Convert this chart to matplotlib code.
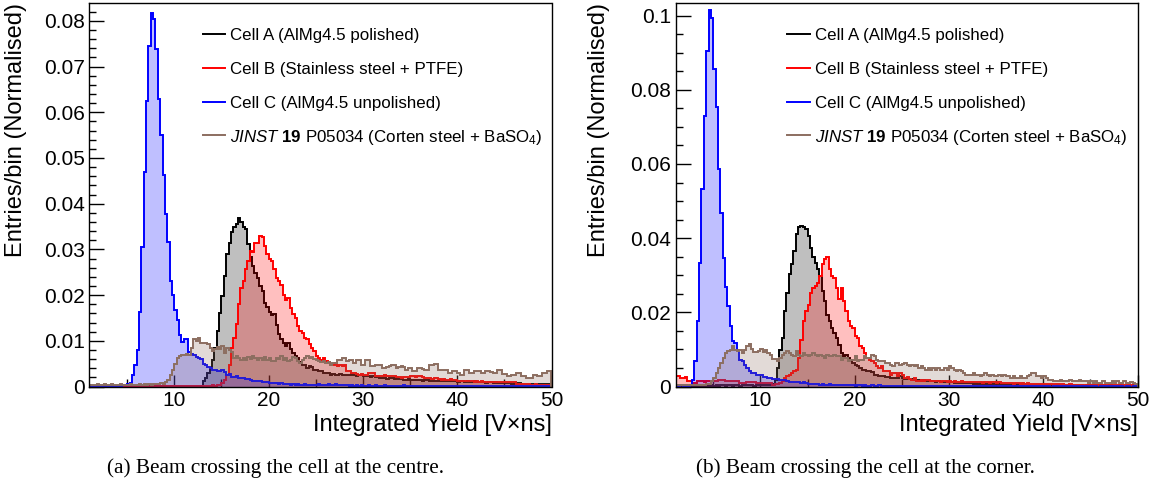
import numpy as np
import matplotlib.pyplot as plt
from matplotlib.ticker import MultipleLocator, FuncFormatter

plt.rcParams['font.family'] = ['Liberation Sans', 'DejaVu Sans']
plt.rcParams['mathtext.fontset'] = 'custom'
plt.rcParams['mathtext.rm'] = 'Liberation Sans'
plt.rcParams['mathtext.it'] = 'Liberation Sans:italic'
plt.rcParams['mathtext.bf'] = 'Liberation Sans:bold'

# binning shared by all histograms [V x ns]
x_min, x_max, bin_width = 1.0, 50.0, 0.25

# bin contents, in units of 1e-3 (entries/bin, normalised)
# (a) beam crossing the cell at the centre
centre_a = [0.0,
    0.1, 0.0, 0.1, 0.1, 0.0, 0.1, 0.1, 0.0, 0.1, 0.1,
    0.1, 0.1, 0.0, 0.1, 0.1, 0.1, 0.0, 0.1, 0.1, 0.1,
    0.1, 0.1, 0.1, 0.1, 0.0, 0.1, 0.1, 0.1, 0.1, 0.1,
    0.1, 0.1, 0.1, 0.1, 0.1, 0.1, 0.1, 0.1, 0.1, 0.2,
    0.1, 0.2, 0.1, 0.2, 0.2, 0.2, 0.2, 1.1, 1.8,
    2.9, 4.1, 5.8, 8.4, 12.1, 16.1, 19.8, 24.2, 29.0, 31.5,
    33.7, 34.9, 35.5, 36.8, 35.9, 34.8, 34.4, 31.2, 28.3, 26.3,
    24.9, 23.8, 22.0, 20.9, 18.3, 17.3, 16.4, 15.7, 15.9, 13.5,
    11.4, 10.3, 9.5, 8.8, 9.5, 8.1, 7.4, 6.6, 6.3, 5.3,
    4.7, 4.6, 4.0, 4.4, 4.2, 3.7, 3.6, 3.4, 3.3, 3.0,
    2.9, 2.9, 2.6, 2.8, 2.5, 2.6, 2.7, 2.6, 2.5, 2.6,
    2.6, 2.7, 2.6, 2.4, 2.6, 2.5, 2.3, 2.2, 2.3,
    2.1, 2.2, 2.0, 2.2, 1.9, 1.8, 1.9, 1.7, 1.8, 1.8,
    1.7, 1.8, 1.6, 1.7, 1.5, 1.5, 1.6, 1.4, 1.5, 1.5,
    1.4, 1.5, 1.3, 1.4, 1.5, 1.3, 1.2, 1.3, 1.3, 1.2,
    1.3, 1.1, 1.2, 1.2, 1.1, 1.3, 1.1, 1.0, 1.1, 1.1,
    1.0, 1.1, 0.9, 1.0, 1.1, 1.0, 0.9, 0.9, 1.0,
    0.8, 0.9, 0.9, 0.8, 0.9, 0.8, 0.7, 0.8, 0.8, 0.7,
    0.7, 0.6, 0.7, 0.6, 0.7, 0.6, 0.6, 0.5, 0.6, 0.6,
    0.5, 0.6, 0.5, 0.5, 0.6, 0.5, 0.5, 0.5]
centre_b = [0.1,
    0.1, 0.1, 0.1, 0.2, 0.1, 0.1, 0.1, 0.2, 0.1, 0.1,
    0.1, 0.2, 0.1, 0.1, 0.1, 0.1, 0.2, 0.1, 0.1, 0.1,
    0.1, 0.1, 0.2, 0.1, 0.1, 0.1, 0.1, 0.1, 0.2, 0.1,
    0.1, 0.1, 0.1, 0.2, 0.1, 0.1, 0.1, 0.1, 0.1, 0.2,
    0.1, 0.1, 0.2, 0.1, 0.2, 0.2, 0.2, 0.2, 0.2,
    0.2, 0.2, 0.3, 0.2, 0.3, 0.3, 0.7, 1.5, 2.6, 4.8,
    8.4, 10.6, 13.6, 18.0, 21.6, 23.1, 25.6, 27.5, 29.7, 29.5,
    31.5, 31.3, 33.0, 32.6, 30.8, 28.9, 27.8, 27.5, 25.6, 23.8,
    23.1, 22.3, 20.1, 19.0, 19.4, 17.2, 15.8, 15.0, 13.2, 12.1,
    11.7, 10.6, 10.3, 9.2, 8.4, 7.7, 6.6, 6.2, 5.9, 6.2,
    5.5, 5.3, 4.8, 4.6, 5.2, 4.4, 4.8, 4.4, 4.6, 3.3,
    3.3, 2.9, 2.9, 2.8, 2.6, 2.7, 2.6, 2.5, 2.9,
    2.9, 2.9, 2.2, 2.4, 2.2, 2.4, 2.5, 2.3, 2.4, 2.2,
    2.4, 2.0, 2.1, 1.9, 2.0, 2.1, 2.0, 2.2, 2.3, 2.1,
    2.2, 2.2, 2.0, 1.8, 1.9, 1.8, 1.7, 1.9, 1.8, 1.7,
    1.5, 1.6, 1.4, 1.5, 1.6, 1.4, 1.5, 1.2, 1.3, 1.2,
    1.1, 1.2, 1.3, 1.1, 1.0, 1.1, 1.0, 1.1, 0.9,
    1.0, 0.9, 1.0, 0.9, 1.0, 0.9, 1.0, 0.9, 0.9, 1.0,
    0.9, 1.0, 0.9, 0.6, 0.5, 0.6, 0.5, 0.5, 0.6, 0.4,
    0.4, 0.5, 0.4, 0.4, 0.3, 0.4, 0.4, 0.3]
centre_c = [0.1,
    0.1, 0.1, 0.2, 0.1, 0.2, 0.1, 0.1, 0.2, 0.1, 0.2,
    0.1, 0.2, 0.2, 0.3, 0.3, 0.5, 0.8, 2.6, 4.7, 8.0,
    16.3, 30.5, 47.0, 62.5, 74.5, 81.8, 80.3, 73.9, 63.0, 55.0,
    46.2, 37.8, 31.7, 23.0, 20.1, 16.8, 14.5, 11.3, 9.8, 10.4,
    10.3, 7.6, 7.2, 6.9, 6.5, 6.2, 6.0, 5.0, 4.8,
    4.2, 4.0, 3.7, 3.7, 3.5, 3.4, 3.6, 3.2, 2.6, 2.7,
    2.1, 2.0, 2.2, 1.9, 1.8, 1.8, 1.6, 1.7, 1.4, 1.3,
    1.2, 1.1, 1.2, 1.0, 0.9, 1.0, 0.8, 0.7, 0.8, 0.7,
    0.6, 0.7, 0.5, 0.6, 0.5, 0.4, 0.5, 0.4, 0.5, 0.4,
    0.4, 0.5, 0.4, 0.3, 0.4, 0.3, 0.4, 0.5, 0.4, 0.3,
    0.4, 0.5, 0.3, 0.4, 0.5, 0.4, 0.3, 0.4, 0.3, 0.3,
    0.2, 0.3, 0.2, 0.3, 0.2, 0.3, 0.2, 0.2, 0.3,
    0.2, 0.2, 0.3, 0.2, 0.2, 0.2, 0.3, 0.2, 0.2, 0.2,
    0.2, 0.1, 0.2, 0.2, 0.3, 0.2, 0.2, 0.1, 0.2, 0.2,
    0.2, 0.2, 0.1, 0.2, 0.2, 0.1, 0.2, 0.2, 0.2, 0.1,
    0.2, 0.1, 0.2, 0.1, 0.2, 0.2, 0.1, 0.1, 0.2, 0.1,
    0.1, 0.2, 0.1, 0.1, 0.2, 0.1, 0.1, 0.2, 0.1,
    0.1, 0.1, 0.2, 0.1, 0.1, 0.1, 0.1, 0.2, 0.1, 0.1,
    0.1, 0.1, 0.1, 0.1, 0.2, 0.1, 0.1, 0.1, 0.1, 0.1,
    0.1, 0.1, 0.1, 0.1, 0.1, 0.1, 0.1, 0.1]
centre_jinst = [0.3,
    0.3, 0.4, 0.5, 0.3, 0.4, 0.6, 0.4, 0.3, 0.5, 0.4,
    0.4, 0.3, 0.5, 0.4, 0.4, 0.3, 0.5, 0.4, 0.3, 0.4,
    0.5, 0.4, 0.6, 0.4, 0.5, 0.4, 0.6, 0.5, 0.6, 0.7,
    0.6, 0.9, 1.5, 2.6, 3.6, 5.0, 6.2, 6.6, 7.0, 6.8,
    7.1, 7.0, 8.4, 10.3, 9.9, 10.6, 9.5, 9.6, 9.5,
    9.2, 8.4, 7.7, 8.2, 8.6, 8.1, 8.8, 7.3, 8.4, 7.9,
    7.5, 6.2, 6.6, 6.2, 5.8, 6.2, 5.9, 6.4, 6.0, 6.6,
    6.2, 5.9, 6.2, 5.8, 6.5, 5.9, 6.2, 5.5, 5.6, 6.2,
    6.0, 6.6, 5.8, 6.2, 5.5, 5.9, 6.4, 6.2, 5.5, 5.1,
    5.9, 6.3, 6.6, 6.2, 6.4, 6.0, 5.9, 5.5, 5.3, 5.6,
    5.1, 5.4, 4.8, 5.1, 5.1, 5.9, 5.9, 6.2, 6.2, 5.5,
    5.9, 5.9, 5.1, 5.7, 5.7, 4.8, 4.8, 5.9, 5.9,
    4.4, 4.4, 4.8, 4.8, 4.8, 4.0, 4.0, 4.2, 4.4, 4.8,
    4.8, 4.0, 4.2, 4.4, 4.2, 3.7, 4.0, 4.0, 3.3, 3.3,
    4.0, 4.0, 3.9, 3.7, 3.7, 4.8, 4.8, 5.0, 5.0, 3.7,
    3.7, 3.7, 3.7, 2.9, 2.9, 3.3, 3.3, 3.0, 2.6, 2.6,
    3.7, 3.7, 2.9, 2.9, 3.3, 3.4, 3.4, 2.9, 2.9,
    3.3, 3.3, 3.2, 2.9, 2.9, 3.7, 3.7, 2.7, 2.7, 2.4,
    2.4, 2.6, 2.6, 2.9, 2.9, 2.2, 2.2, 1.8, 1.8, 1.8,
    2.6, 2.6, 2.2, 2.2, 2.9, 2.9, 3.4, 3.3]

# (b) beam crossing the cell at the corner
corner_a = [
    0.2, 0.1, 0.2, 0.2, 0.1, 0.2, 0.1, 0.2, 0.2, 0.1,
    0.2, 0.2, 0.1, 0.2, 0.2, 0.3, 0.2, 0.3, 0.2, 0.3,
    0.3, 0.2, 0.3, 0.3, 0.2, 0.3, 0.3, 0.2, 0.3, 0.3,
    0.3, 0.3, 0.3, 0.2, 0.3, 0.3, 0.4, 0.3, 0.4,
    0.4, 0.5, 0.8, 1.8, 5.0, 9.9, 13.0, 20.3, 25.3, 30.2,
    32.9, 36.5, 41.1, 42.9, 43.3, 42.9, 42.4, 40.5, 37.4, 34.8,
    33.4, 31.6, 29.8, 25.7, 23.0, 19.4, 17.6, 15.8, 14.4, 13.0,
    11.3, 9.0, 8.1, 8.6, 7.7, 7.2, 6.3, 5.9, 5.4, 5.0,
    4.5, 4.5, 4.1, 4.3, 3.8, 3.2, 3.0, 2.9, 2.7,
    2.8, 2.5, 2.6, 2.3, 2.4, 2.2, 2.3, 2.7, 2.4, 2.1,
    2.2, 1.9, 2.0, 1.8, 1.8, 1.7, 1.6, 1.7, 1.5, 1.5,
    1.4, 1.4, 1.3, 1.4, 1.2, 1.3, 1.2, 1.1, 1.2, 1.1,
    1.0, 1.1, 1.0, 0.9, 1.0, 0.9, 0.9, 1.0, 0.8, 0.9,
    0.8, 0.9, 0.8, 0.7, 0.8, 0.8, 0.7, 0.8, 0.7, 0.7,
    0.6, 0.7, 0.6, 0.6, 0.7, 0.6, 0.5, 0.6, 0.5,
    0.5, 0.6, 0.5, 0.5, 0.4, 0.5, 0.5, 0.4, 0.5, 0.4,
    0.4, 0.4, 0.5, 0.4, 0.3, 0.4, 0.4, 0.3, 0.4, 0.3,
    0.3, 0.3, 0.4, 0.3, 0.3, 0.3, 0.2, 0.3, 0.3, 0.3,
    0.3, 0.2, 0.3, 0.2, 0.3, 0.2, 0.2, 0.3, 0.2, 0.2,
    0.2, 0.3, 0.2, 0.2, 0.2, 0.2, 0.2, 0.3, 0.2]
corner_b = [
    2.7, 2.7, 2.3, 2.3, 2.5, 1.4, 1.4, 0.9, 0.9, 1.4,
    1.4, 1.4, 1.3, 1.4, 1.4, 1.4, 1.4, 1.4, 1.8, 1.8,
    1.8, 1.4, 1.4, 1.4, 1.6, 1.6, 1.6, 0.9, 0.9, 0.9,
    1.2, 1.2, 1.2, 1.2, 0.9, 0.9, 0.9, 0.9, 0.9,
    0.9, 0.9, 0.5, 0.6, 0.6, 0.9, 1.4, 2.2, 2.7, 3.2,
    3.6, 4.1, 4.5, 7.7, 12.6, 17.6, 20.3, 22.1, 25.3, 26.6,
    27.1, 28.0, 29.8, 33.0, 34.3, 34.8, 31.6, 29.8, 29.3, 26.6,
    23.5, 26.6, 23.0, 20.3, 17.6, 16.2, 15.8, 13.5, 13.1, 10.8,
    10.4, 9.0, 7.7, 7.2, 6.8, 6.3, 5.4, 5.0, 5.4,
    4.3, 4.1, 4.1, 3.2, 3.6, 3.6, 2.7, 3.6, 3.2, 2.3,
    2.5, 2.0, 1.8, 2.3, 1.6, 1.4, 1.8, 1.6, 1.8, 1.7,
    1.6, 1.4, 1.5, 1.4, 1.3, 1.4, 1.4, 1.2, 1.4, 1.3,
    1.4, 1.2, 1.3, 1.4, 1.2, 1.3, 1.2, 1.1, 1.2, 1.2,
    1.1, 1.2, 1.0, 1.2, 1.1, 1.0, 1.1, 1.2, 1.0, 1.1,
    0.9, 1.0, 0.9, 0.9, 1.0, 0.8, 0.9, 0.9, 0.8,
    0.9, 0.8, 0.9, 0.8, 0.7, 0.8, 0.6, 0.7, 0.6, 0.6,
    0.7, 0.6, 0.6, 0.5, 0.6, 0.6, 0.5, 0.6, 0.5, 0.5,
    0.6, 0.5, 0.4, 0.5, 0.4, 0.5, 0.4, 0.4, 0.5, 0.4,
    0.4, 0.5, 0.4, 0.4, 0.4, 0.3, 0.4, 0.4, 0.3, 0.4,
    0.3, 0.4, 0.3, 0.4, 0.3, 0.3, 0.4, 0.3, 0.3]
corner_c = [
    0.3, 0.2, 0.3, 0.2, 0.3, 0.2, 0.4, 1.8, 6.8, 17.6,
    33.4, 53.3, 72.8, 90.5, 101.5, 99.3, 85.7, 75.4, 58.7, 46.9,
    34.7, 26.8, 21.7, 16.2, 12.2, 11.7, 9.9, 7.2, 6.8, 5.9,
    5.0, 4.1, 3.6, 3.6, 3.2, 3.2, 3.0, 2.5, 2.5,
    2.4, 2.3, 2.1, 2.0, 1.9, 1.8, 1.8, 1.7, 1.6, 1.2,
    1.3, 1.2, 1.1, 1.2, 1.0, 1.1, 0.9, 0.7, 0.6, 0.7,
    0.6, 0.6, 0.5, 0.6, 0.5, 0.5, 0.6, 0.4, 0.5, 0.4,
    0.3, 0.4, 0.3, 0.3, 0.4, 0.3, 0.3, 0.2, 0.3, 0.3,
    0.2, 0.3, 0.2, 0.2, 0.3, 0.2, 0.2, 0.3, 0.2,
    0.2, 0.2, 0.2, 0.1, 0.2, 0.2, 0.2, 0.1, 0.2, 0.2,
    0.2, 0.1, 0.2, 0.2, 0.1, 0.2, 0.1, 0.2, 0.1, 0.1,
    0.2, 0.1, 0.1, 0.2, 0.1, 0.1, 0.1, 0.2, 0.1, 0.1,
    0.1, 0.1, 0.1, 0.2, 0.1, 0.1, 0.1, 0.1, 0.1, 0.1,
    0.1, 0.1, 0.1, 0.1, 0.1, 0.2, 0.1, 0.1, 0.1, 0.1,
    0.1, 0.1, 0.1, 0.1, 0.1, 0.1, 0.1, 0.1, 0.1,
    0.1, 0.1, 0.1, 0.0, 0.1, 0.1, 0.1, 0.1, 0.1, 0.1,
    0.1, 0.1, 0.0, 0.1, 0.1, 0.1, 0.0, 0.1, 0.1, 0.1,
    0.1, 0.0, 0.1, 0.1, 0.0, 0.1, 0.1, 0.1, 0.0, 0.1,
    0.1, 0.1, 0.0, 0.1, 0.1, 0.0, 0.1, 0.1, 0.1, 0.0,
    0.1, 0.0, 0.1, 0.0, 0.1, 0.1, 0.0, 0.1, 0.1]
corner_jinst = [
    0.4, 0.5, 0.4, 0.5, 0.4, 0.5, 0.4, 0.5, 0.5, 0.4,
    0.5, 0.4, 0.5, 0.6, 0.7, 1.4, 2.3, 3.6, 5.0, 6.3,
    7.7, 9.0, 9.7, 9.9, 10.8, 9.9, 9.5, 9.9, 9.0, 9.9,
    11.0, 11.5, 10.2, 9.2, 9.3, 9.5, 10.0, 9.4, 9.9,
    9.0, 8.6, 7.5, 7.3, 7.0, 7.7, 8.6, 9.0, 9.5, 9.0,
    8.6, 8.1, 9.5, 8.6, 8.1, 9.0, 8.6, 8.1, 8.6, 9.0,
    8.6, 8.1, 8.6, 8.1, 7.7, 8.6, 8.1, 8.1, 8.6, 8.1,
    8.1, 7.2, 7.7, 7.7, 6.8, 7.2, 7.2, 8.1, 6.8, 7.2,
    7.2, 8.1, 7.7, 7.7, 8.6, 8.1, 7.2, 6.8, 6.8,
    6.8, 6.3, 6.3, 5.9, 5.4, 6.3, 6.3, 5.9, 6.1, 6.3,
    5.9, 5.4, 5.9, 5.4, 5.8, 5.0, 5.4, 5.0, 4.5, 5.0,
    4.5, 5.0, 4.5, 5.0, 4.5, 4.5, 5.0, 4.5, 5.4, 5.0,
    4.5, 4.1, 4.5, 4.1, 3.6, 3.2, 3.2, 3.2, 3.6, 3.2,
    3.2, 2.7, 3.2, 3.6, 3.2, 2.7, 3.2, 2.7, 2.7, 3.2,
    2.7, 3.2, 2.7, 2.7, 2.3, 2.7, 2.3, 2.3, 2.7,
    2.3, 2.3, 2.7, 3.2, 3.6, 3.6, 2.7, 2.7, 2.3, 2.7,
    2.3, 1.8, 1.8, 1.4, 1.4, 1.4, 1.8, 1.4, 1.4, 1.4,
    1.8, 1.4, 1.4, 1.4, 1.8, 1.4, 1.4, 1.4, 0.9, 1.4,
    0.9, 1.4, 0.9, 0.9, 1.4, 0.9, 0.9, 0.9, 1.4, 0.9,
    1.4, 0.9, 0.9, 1.4, 0.9, 0.9, 1.1, 0.9, 0.8]

labels = ['Cell A (AlMg4.5 polished)',
          'Cell B (Stainless steel + PTFE)',
          'Cell C (AlMg4.5 unpolished)',
          r'$\mathit{JINST}$ $\mathbf{19}$ P05034 (Corten steel + BaSO$_4$)']
colors = ['#000000', '#ff0000', '#0000ff', '#8c6e60']
captions = ['(a) Beam crossing the cell at the centre.',
            '(b) Beam crossing the cell at the corner.']

panels = [
    dict(series=[centre_a, centre_b, centre_c, centre_jinst], ymax=0.0839,
         major=0.01, minor=0.002, left=89.5, ylab_x=-0.136,
         leg_x=(0.2457, 0.2933, 0.304), caption_x=275.5),
    dict(series=[corner_a, corner_b, corner_c, corner_jinst], ymax=0.1034,
         major=0.02, minor=0.005, left=675.5, ylab_x=-0.142,
         leg_x=(0.2405, 0.291, 0.303), caption_x=865),
]

W, H = 1155, 495
fig = plt.figure(figsize=(W / 100, H / 100), dpi=100)
ax_w, ax_top, ax_bottom = 462, 3, 386.5
legend_rows = [0.9192, 0.8297, 0.7426, 0.6558]

for p, caption in zip(panels, captions):
    ax = fig.add_axes([p['left'] / W, 1 - ax_bottom / H, ax_w / W, (ax_bottom - ax_top) / H])
    for vals, col in zip(p['series'], colors):
        assert len(vals) == 196, len(vals)
        y = np.array(vals) * 1e-3
        edges = x_min + bin_width * np.arange(len(y) + 1)
        ax.stairs(y, edges, fill=True, color=col, alpha=0.25, lw=0)
        ax.stairs(y, edges, color=col, lw=1.4)

    ax.set_xlim(x_min, x_max)
    ax.set_ylim(0, p['ymax'])
    ax.set_axisbelow(True)
    ax.xaxis.set_major_locator(MultipleLocator(10))
    ax.xaxis.set_minor_locator(MultipleLocator(5))
    ax.yaxis.set_major_locator(MultipleLocator(p['major']))
    ax.yaxis.set_minor_locator(MultipleLocator(p['minor']))
    ax.yaxis.set_major_formatter(FuncFormatter(lambda v, pos: '0' if abs(v) < 1e-9 else f'{v:g}'))
    ax.tick_params(which='both', direction='in', top=False, right=False, labelsize=15, pad=3)
    ax.tick_params(axis='y', which='major', length=10.5, width=1)
    ax.tick_params(axis='y', which='minor', length=5, width=1)
    ax.tick_params(axis='x', which='major', length=8.5, width=1)
    ax.tick_params(axis='x', which='minor', length=6, width=1)
    for sp in ax.spines.values():
        sp.set_linewidth(1.0)

    ax.set_xlabel('Integrated Yield [V\u00d7ns]', fontsize=17, loc='right')
    ax.xaxis.set_label_coords(1.0, -0.0707)
    ax.set_ylabel('Entries/bin (Normalised)', fontsize=17, loc='top')
    ax.yaxis.set_label_coords(p['ylab_x'], 1.0)

    lx0, lx1, tx = p['leg_x']
    for lab, col, ly in zip(labels, colors, legend_rows):
        ax.plot([lx0, lx1], [ly, ly], transform=ax.transAxes, color=col, lw=1.4, clip_on=False)
        ax.text(tx, ly, lab, transform=ax.transAxes, fontsize=12.2,
                ha='left', va='center_baseline')

    fig.text(p['caption_x'] / W, 0.0444, caption, ha='center', va='baseline',
             family='Liberation Serif', fontsize=15.3)

fig.savefig('out.png', dpi=100)
